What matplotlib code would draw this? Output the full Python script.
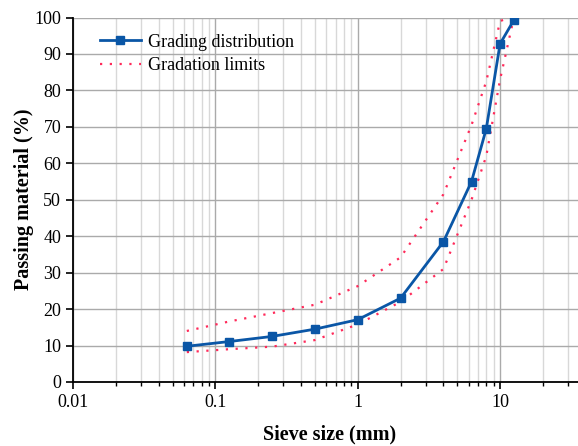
import numpy as np
import matplotlib
matplotlib.use("Agg")
from matplotlib import pyplot as plt, ticker as mticker

# sieve sizes (mm) and passing (%)
sieve = [0.063, 0.125, 0.25, 0.5, 1, 2, 4, 6.3, 8, 10, 12.5]
grading = [9.8, 11.1, 12.5, 14.5, 17.1, 23.0, 38.5, 55.0, 69.5, 92.8, 99.3]
upper_limit = [14.0, 16.6, 18.9, 21.2, 26.3, 34.2, 51.5, 70.5, 82.5, 99.0, 100.5]
lower_limit = [8.2, 9.0, 9.7, 11.5, 15.8, 22.0, 31.0, 50.0, 62.0, 83.0, 100.0]

plt.rcParams['font.family'] = ['Liberation Serif', 'DejaVu Serif']

fig = plt.figure(figsize=(5.78, 4.46), dpi=100)
ax = fig.add_axes([73 / 578, 64 / 446, (585.8 - 73) / 578, (382 - 17.5) / 446])

ax.plot(sieve, grading, color='#0a56a6', lw=2, marker='s', ms=5.5,
        label='Grading distribution', zorder=4)
ax.plot(sieve, upper_limit, color='#ff2a5a', lw=1.6, ls=(0, (1, 3.4)),
        label='Gradation limits', zorder=3)
ax.plot(sieve, lower_limit, color='#ff2a5a', lw=1.6, ls=(0, (1, 3.4)), zorder=3)

ax.set_xscale('log')
ax.set_xlim(0.01, 40)
ax.set_ylim(0, 100)
ax.set_yticks(np.arange(0, 101, 10))
ax.xaxis.set_major_formatter(mticker.FuncFormatter(lambda v, p: '%g' % v))
ax.xaxis.set_minor_formatter(mticker.NullFormatter())

ax.grid(which='major', color='#aaaaaa', lw=1.0)
ax.grid(which='minor', axis='x', color='#d8d8d8', lw=1.0)
ax.set_axisbelow(True)

for s in ['top', 'right']:
    ax.spines[s].set_visible(False)
ax.spines['left'].set_linewidth(1.3)
ax.spines['bottom'].set_linewidth(1.3)
ax.tick_params(which='major', direction='out', length=5, width=1.2, labelsize=13)
ax.tick_params(which='minor', direction='out', length=3, width=1.0)

ax.set_xlabel('Sieve size (mm)', fontsize=14.5, fontweight='bold', labelpad=10)
ax.set_ylabel('Passing material (%)', fontsize=14.5, fontweight='bold', labelpad=0)

ax.legend(loc='upper left', bbox_to_anchor=(0.02, 1.0), frameon=False,
          fontsize=13, handlelength=2.3, labelspacing=0.35, handletextpad=0.4)

fig.savefig('out.png', dpi=100)
